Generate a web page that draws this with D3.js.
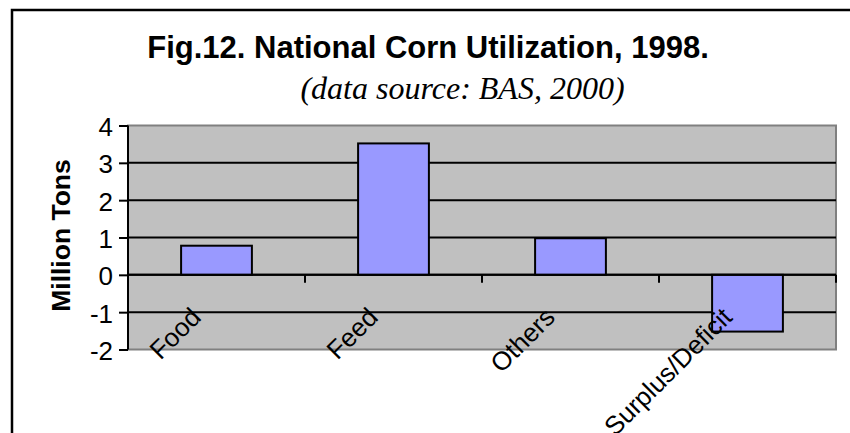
<!DOCTYPE html>
<html>
<head>
<meta charset="utf-8">
<script src="https://cdn.jsdelivr.net/npm/d3@7"></script>
<style>
  html, body { margin: 0; padding: 0; background: #ffffff; }
  svg { display: block; }
</style>
</head>
<body>
<svg id="chart" width="850" height="433"></svg>
<script>
// National corn utilization, 1998 (million tons)
const categories = ["Food", "Feed", "Others", "Surplus/Deficit"];
const values = [0.78, 3.52, 0.98, -1.52];
const yTicks = [-2, -1, 0, 1, 2, 3, 4];

const titleText = "Fig.12. National Corn Utilization, 1998.";
const subtitleText = "(data source: BAS, 2000)";
const yAxisTitle = "Million Tons";

const svg = d3.select("#chart");
const sans = "'Liberation Sans', Arial, sans-serif";
const serif = "'Liberation Serif', 'Times New Roman', serif";

// chart frame (extends past the page edge on the right and bottom)
svg.append("rect")
  .attr("x", 12).attr("y", 10)
  .attr("width", 900).attr("height", 500)
  .attr("fill", "none")
  .attr("stroke", "#000").attr("stroke-width", 2.5);

const plot = { left: 128, right: 836, top: 125.5, bottom: 349.5 };

const x = d3.scaleBand()
  .domain(categories)
  .range([plot.left, plot.right])
  .paddingInner(0.6)
  .paddingOuter(0.3);

const xSlot = d3.scaleBand()
  .domain(categories)
  .range([plot.left, plot.right])
  .padding(0);

const y = d3.scaleLinear()
  .domain([d3.min(yTicks), d3.max(yTicks)])
  .range([plot.bottom, plot.top]);

// plot background
svg.append("rect")
  .attr("x", plot.left).attr("y", plot.top)
  .attr("width", plot.right - plot.left)
  .attr("height", plot.bottom - plot.top)
  .attr("fill", "#c0c0c0")
  .attr("stroke", "#808080").attr("stroke-width", 2);

// horizontal gridlines
svg.append("g")
  .selectAll("line")
  .data(yTicks.filter(t => t !== d3.min(yTicks) && t !== d3.max(yTicks)))
  .join("line")
  .attr("x1", plot.left).attr("x2", plot.right)
  .attr("y1", d => y(d)).attr("y2", d => y(d))
  .attr("stroke", "#000").attr("stroke-width", 2);

// bars
svg.append("g")
  .selectAll("rect")
  .data(values)
  .join("rect")
  .attr("x", (d, i) => x(categories[i]))
  .attr("width", x.bandwidth())
  .attr("y", d => y(Math.max(0, d)))
  .attr("height", d => Math.abs(y(d) - y(0)))
  .attr("fill", "#9999ff")
  .attr("stroke", "#000").attr("stroke-width", 2);

// category axis along zero, ticks pointing down at slot boundaries
const xAxisG = svg.append("g").attr("transform", `translate(0,${y(0)})`);
xAxisG.append("line")
  .attr("x1", plot.left).attr("x2", plot.right)
  .attr("y1", 0).attr("y2", 0)
  .attr("stroke", "#000").attr("stroke-width", 2);
xAxisG.selectAll("line.tick")
  .data(categories)
  .join("line")
  .attr("class", "tick")
  .attr("x1", d => xSlot(d) + xSlot.bandwidth())
  .attr("x2", d => xSlot(d) + xSlot.bandwidth())
  .attr("y1", 0).attr("y2", 8)
  .attr("stroke", "#000").attr("stroke-width", 2);

// value axis
const yAxis = d3.axisLeft(y)
  .tickValues(yTicks)
  .tickFormat(d => String(d))
  .tickSize(9)
  .tickPadding(6);
const yAxisG = svg.append("g")
  .attr("transform", `translate(${plot.left},0)`)
  .call(yAxis);
yAxisG.select(".domain").attr("stroke", "#000").attr("stroke-width", 2)
  .attr("d", `M0,${plot.top}V${plot.bottom}`);
yAxisG.selectAll(".tick line").attr("stroke", "#000").attr("stroke-width", 2);
yAxisG.selectAll(".tick text")
  .attr("font-family", sans)
  .attr("font-size", 26)
  .attr("fill", "#000")
  .attr("dy", "0.38em");

// category labels, rotated
svg.append("g")
  .selectAll("text")
  .data(categories)
  .join("text")
  .attr("transform", d => `translate(${xSlot(d) + xSlot.bandwidth() / 2 - 14},${y(0) + 44}) rotate(-45)`)
  .attr("text-anchor", "end")
  .attr("font-family", sans)
  .attr("font-size", 26)
  .attr("fill", "#000")
  .text(d => d);

// axis title
svg.append("text")
  .attr("transform", `translate(70,${(plot.top + plot.bottom) / 2 - 2}) rotate(-90)`)
  .attr("text-anchor", "middle")
  .attr("font-family", sans)
  .attr("font-weight", "bold")
  .attr("font-size", 26.5)
  .attr("fill", "#000")
  .text(yAxisTitle);

// titles
svg.append("text")
  .attr("x", 428).attr("y", 58)
  .attr("text-anchor", "middle")
  .attr("font-family", sans)
  .attr("font-weight", "bold")
  .attr("font-size", 31)
  .attr("fill", "#000")
  .text(titleText);

svg.append("text")
  .attr("x", 462.5).attr("y", 99)
  .attr("text-anchor", "middle")
  .attr("font-family", serif)
  .attr("font-style", "italic")
  .attr("font-size", 32)
  .attr("fill", "#000")
  .text(subtitleText);
</script>
</body>
</html>
